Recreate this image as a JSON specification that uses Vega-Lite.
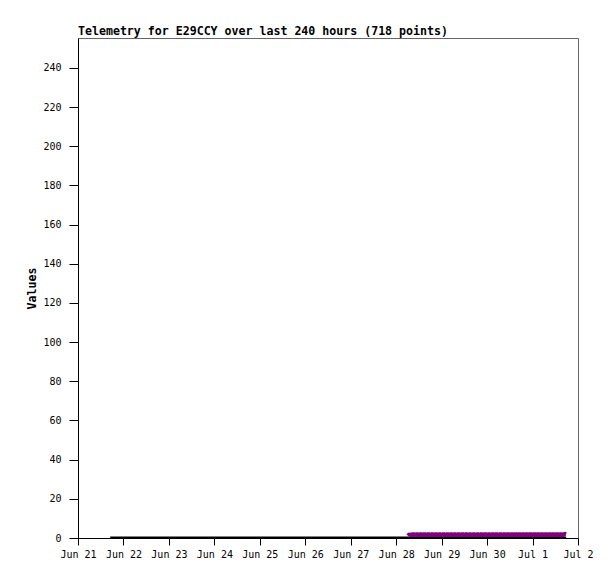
{
  "$schema": "https://vega.github.io/schema/vega-lite/v6.json",
  "width": 500,
  "height": 500,
  "autosize": "none",
  "padding": {"left": 78, "top": 38, "right": 37, "bottom": 41},
  "background": "white",
  "title": {
    "text": "Telemetry for E29CCY over last 240 hours (718 points)",
    "anchor": "start",
    "frame": "group",
    "font": "DejaVu Sans Mono",
    "fontSize": 11.6,
    "fontWeight": "bold",
    "color": "black",
    "offset": 0
  },
  "config": {
    "view": {"stroke": "#666666", "strokeWidth": 1},
    "axis": {
      "labelFont": "DejaVu Sans Mono",
      "labelFontSize": 10,
      "labelColor": "black",
      "domainColor": "black",
      "tickColor": "black",
      "grid": false,
      "titleFont": "DejaVu Sans Mono",
      "titleFontSize": 11.6,
      "titleColor": "black"
    }
  },
  "data": {
    "values": [
      {"series": "base", "time": "2023-06-21T17:00:00Z", "value": 0.2},
      {"series": "base", "time": "2023-06-23T00:00:00Z", "value": 0.2},
      {"series": "base", "time": "2023-06-25T00:00:00Z", "value": 0.2},
      {"series": "base", "time": "2023-06-27T00:00:00Z", "value": 0.2},
      {"series": "base", "time": "2023-06-29T00:00:00Z", "value": 0.2},
      {"series": "base", "time": "2023-07-01T17:45:00Z", "value": 0.2},
      {"series": "band", "time": "2023-06-28T06:15:00Z", "value": 1.2},
      {"series": "band", "time": "2023-06-28T07:00:00Z", "value": 2.1},
      {"series": "band", "time": "2023-06-28T08:00:00Z", "value": 1.2},
      {"series": "band", "time": "2023-06-28T09:00:00Z", "value": 2.2},
      {"series": "band", "time": "2023-06-28T10:00:00Z", "value": 1.2},
      {"series": "band", "time": "2023-06-28T11:00:00Z", "value": 2.2},
      {"series": "band", "time": "2023-06-28T12:00:00Z", "value": 1.3},
      {"series": "band", "time": "2023-06-28T13:00:00Z", "value": 2.2},
      {"series": "band", "time": "2023-06-28T14:00:00Z", "value": 1.2},
      {"series": "band", "time": "2023-06-28T15:00:00Z", "value": 2.2},
      {"series": "band", "time": "2023-06-28T16:00:00Z", "value": 1.2},
      {"series": "band", "time": "2023-06-28T17:00:00Z", "value": 2.2},
      {"series": "band", "time": "2023-06-28T18:00:00Z", "value": 1.3},
      {"series": "band", "time": "2023-06-28T19:00:00Z", "value": 2.2},
      {"series": "band", "time": "2023-06-28T20:00:00Z", "value": 1.2},
      {"series": "band", "time": "2023-06-28T21:00:00Z", "value": 2.2},
      {"series": "band", "time": "2023-06-28T22:00:00Z", "value": 1.2},
      {"series": "band", "time": "2023-06-28T23:00:00Z", "value": 2.2},
      {"series": "band", "time": "2023-06-29T00:00:00Z", "value": 1.3},
      {"series": "band", "time": "2023-06-29T01:00:00Z", "value": 2.2},
      {"series": "band", "time": "2023-06-29T02:00:00Z", "value": 1.2},
      {"series": "band", "time": "2023-06-29T03:00:00Z", "value": 2.2},
      {"series": "band", "time": "2023-06-29T04:00:00Z", "value": 1.2},
      {"series": "band", "time": "2023-06-29T05:00:00Z", "value": 2.2},
      {"series": "band", "time": "2023-06-29T06:00:00Z", "value": 1.3},
      {"series": "band", "time": "2023-06-29T07:00:00Z", "value": 2.2},
      {"series": "band", "time": "2023-06-29T08:00:00Z", "value": 1.2},
      {"series": "band", "time": "2023-06-29T09:00:00Z", "value": 2.2},
      {"series": "band", "time": "2023-06-29T10:00:00Z", "value": 1.2},
      {"series": "band", "time": "2023-06-29T11:00:00Z", "value": 2.2},
      {"series": "band", "time": "2023-06-29T12:00:00Z", "value": 1.3},
      {"series": "band", "time": "2023-06-29T13:00:00Z", "value": 2.2},
      {"series": "band", "time": "2023-06-29T14:00:00Z", "value": 1.2},
      {"series": "band", "time": "2023-06-29T15:00:00Z", "value": 2.2},
      {"series": "band", "time": "2023-06-29T16:00:00Z", "value": 1.2},
      {"series": "band", "time": "2023-06-29T17:00:00Z", "value": 2.2},
      {"series": "band", "time": "2023-06-29T18:00:00Z", "value": 1.3},
      {"series": "band", "time": "2023-06-29T19:00:00Z", "value": 2.2},
      {"series": "band", "time": "2023-06-29T20:00:00Z", "value": 1.2},
      {"series": "band", "time": "2023-06-29T21:00:00Z", "value": 2.2},
      {"series": "band", "time": "2023-06-29T22:00:00Z", "value": 1.2},
      {"series": "band", "time": "2023-06-29T23:00:00Z", "value": 2.2},
      {"series": "band", "time": "2023-06-30T00:00:00Z", "value": 1.3},
      {"series": "band", "time": "2023-06-30T01:00:00Z", "value": 2.2},
      {"series": "band", "time": "2023-06-30T02:00:00Z", "value": 1.2},
      {"series": "band", "time": "2023-06-30T03:00:00Z", "value": 2.2},
      {"series": "band", "time": "2023-06-30T04:00:00Z", "value": 1.2},
      {"series": "band", "time": "2023-06-30T05:00:00Z", "value": 2.2},
      {"series": "band", "time": "2023-06-30T06:00:00Z", "value": 1.3},
      {"series": "band", "time": "2023-06-30T07:00:00Z", "value": 2.2},
      {"series": "band", "time": "2023-06-30T08:00:00Z", "value": 1.2},
      {"series": "band", "time": "2023-06-30T09:00:00Z", "value": 2.2},
      {"series": "band", "time": "2023-06-30T10:00:00Z", "value": 1.2},
      {"series": "band", "time": "2023-06-30T11:00:00Z", "value": 2.2},
      {"series": "band", "time": "2023-06-30T12:00:00Z", "value": 1.3},
      {"series": "band", "time": "2023-06-30T13:00:00Z", "value": 2.2},
      {"series": "band", "time": "2023-06-30T14:00:00Z", "value": 1.2},
      {"series": "band", "time": "2023-06-30T15:00:00Z", "value": 2.2},
      {"series": "band", "time": "2023-06-30T16:00:00Z", "value": 1.2},
      {"series": "band", "time": "2023-06-30T17:00:00Z", "value": 2.2},
      {"series": "band", "time": "2023-06-30T18:00:00Z", "value": 1.3},
      {"series": "band", "time": "2023-06-30T19:00:00Z", "value": 2.2},
      {"series": "band", "time": "2023-06-30T20:00:00Z", "value": 1.2},
      {"series": "band", "time": "2023-06-30T21:00:00Z", "value": 2.2},
      {"series": "band", "time": "2023-06-30T22:00:00Z", "value": 1.2},
      {"series": "band", "time": "2023-06-30T23:00:00Z", "value": 2.2},
      {"series": "band", "time": "2023-07-01T00:00:00Z", "value": 1.3},
      {"series": "band", "time": "2023-07-01T01:00:00Z", "value": 2.2},
      {"series": "band", "time": "2023-07-01T02:00:00Z", "value": 1.2},
      {"series": "band", "time": "2023-07-01T03:00:00Z", "value": 2.2},
      {"series": "band", "time": "2023-07-01T04:00:00Z", "value": 1.2},
      {"series": "band", "time": "2023-07-01T05:00:00Z", "value": 2.2},
      {"series": "band", "time": "2023-07-01T06:00:00Z", "value": 1.3},
      {"series": "band", "time": "2023-07-01T07:00:00Z", "value": 2.2},
      {"series": "band", "time": "2023-07-01T08:00:00Z", "value": 1.2},
      {"series": "band", "time": "2023-07-01T09:00:00Z", "value": 2.2},
      {"series": "band", "time": "2023-07-01T10:00:00Z", "value": 1.2},
      {"series": "band", "time": "2023-07-01T11:00:00Z", "value": 2.2},
      {"series": "band", "time": "2023-07-01T12:00:00Z", "value": 1.3},
      {"series": "band", "time": "2023-07-01T13:00:00Z", "value": 2.2},
      {"series": "band", "time": "2023-07-01T14:00:00Z", "value": 1.2},
      {"series": "band", "time": "2023-07-01T15:00:00Z", "value": 2.2},
      {"series": "band", "time": "2023-07-01T16:00:00Z", "value": 1.2},
      {"series": "band", "time": "2023-07-01T17:00:00Z", "value": 2.2},
      {"series": "band", "time": "2023-07-01T17:45:00Z", "value": 2.0}
    ]
  },
  "encoding": {
    "x": {
      "field": "time",
      "type": "temporal",
      "scale": {"type": "utc", "domain": [{"year": 2023, "month": 6, "date": 21, "utc": true}, {"year": 2023, "month": 7, "date": 2, "utc": true}]},
      "axis": {"title": null, "format": "%b %-d", "formatType": "time", "values": [
        {"year": 2023, "month": 6, "date": 21, "utc": true},
        {"year": 2023, "month": 6, "date": 22, "utc": true},
        {"year": 2023, "month": 6, "date": 23, "utc": true},
        {"year": 2023, "month": 6, "date": 24, "utc": true},
        {"year": 2023, "month": 6, "date": 25, "utc": true},
        {"year": 2023, "month": 6, "date": 26, "utc": true},
        {"year": 2023, "month": 6, "date": 27, "utc": true},
        {"year": 2023, "month": 6, "date": 28, "utc": true},
        {"year": 2023, "month": 6, "date": 29, "utc": true},
        {"year": 2023, "month": 6, "date": 30, "utc": true},
        {"year": 2023, "month": 7, "date": 1, "utc": true},
        {"year": 2023, "month": 7, "date": 2, "utc": true}
      ], "labelPadding": 4, "tickSize": 7, "labelFlush": false, "labelOverlap": false}
    },
    "y": {
      "field": "value",
      "type": "quantitative",
      "scale": {"domain": [0, 255.3], "nice": false, "zero": true},
      "axis": {"title": "Values", "values": [0, 20, 40, 60, 80, 100, 120, 140, 160, 180, 200, 220, 240], "titlePadding": 5, "tickSize": 9, "labelPadding": 8}
    }
  },
  "layer": [
    {
      "transform": [{"filter": "datum.series === 'base'"}],
      "mark": {"type": "line", "color": "black", "strokeWidth": 2, "clip": true}
    },
    {
      "transform": [{"filter": "datum.series === 'band'"}],
      "mark": {"type": "line", "color": "#800080", "strokeWidth": 4, "strokeJoin": "bevel", "clip": true}
    }
  ]
}
